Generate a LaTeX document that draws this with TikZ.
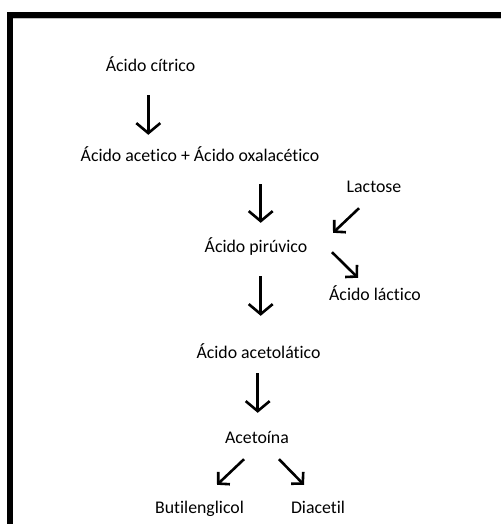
\documentclass[tikz,border=0pt]{standalone}
\usepackage{fontspec}
\setmainfont[Ligatures={NoCommon}]{Carlito}
\usetikzlibrary{arrows.meta,calc}
\tikzset{
  x=1pt, y=-1pt,
  lbl/.style={inner sep=0pt, anchor=base, text height=12pt, text depth=4pt,
    font=\fontsize{17.8}{20}\selectfont, text=black},
  varr/.style={line width=2.6pt, -{Straight Barb[length=10pt,width=24pt,line width=2.6pt]}},
  darr/.style={line width=2.6pt, -{Straight Barb[length=8pt,width=17pt,line width=2.6pt]}},
}
\begin{document}
\begin{tikzpicture}
\useasboundingbox (0,0) rectangle (501,524);
\fill[black!25] (6.8,11.8) rectangle (501,19);
\fill[black!25] (6.8,11.8) rectangle (13.2,524);
\fill[black] (7.3,12.3) rectangle (501,18.3);
\fill[black] (7.3,12.3) rectangle (12.7,524);

\node[lbl] (citrico) at (150.5,72) {Ácido cítrico};
\node[lbl] (acetico) at (200,161) {Ácido acetico + Ácido oxalacético};
\node[lbl] (lactose) at (374,192) {Lactose};
\node[lbl] (piruvico) at (256,252) {Ácido pirúvico};
\node[lbl] (lactico) at (375,300) {Ácido láctico};
\node[lbl] (acetolatico) at (258.5,358) {Ácido acetolático};
\node[lbl] (acetoina) at (257,443) {Acetoína};
\node[lbl] (butil) at (199.5,513) {Butilenglicol};
\node[lbl] (diacetil) at (318,513) {Diacetil};

\draw[varr] ($(citrico.south)+(-2.2,19)$) -- ($(citrico.south |- acetico.north)+(-2.2,-14)$);
\draw[varr] ($(acetico.south -| piruvico.north)+(4.7,19)$) -- ($(piruvico.north)+(4.7,-17)$);
\draw[varr] ($(piruvico.south)+(4.7,20)$) -- ($(piruvico.south |- acetolatico.north)+(4.7,-30)$);
\draw[varr] ($(acetolatico.south -| acetoina.north)+(0.7,11)$) -- ($(acetoina.north)+(0.7,-18)$);
\draw[darr] ($(lactose.south)+(-15,12)$) -- ($(piruvico.north)+(77,-7)$);
\draw[darr] ($(piruvico.south)+(76,-4)$) -- ($(lactico.north)+(-17,-10)$);
\draw[darr] ($(acetoina.south)+(-13,12)$) -- ($(butil.north)+(17.5,-16)$);
\draw[darr] ($(acetoina.south)+(22,12)$) -- ($(diacetil.north)+(-14,-16)$);
\end{tikzpicture}
\end{document}
